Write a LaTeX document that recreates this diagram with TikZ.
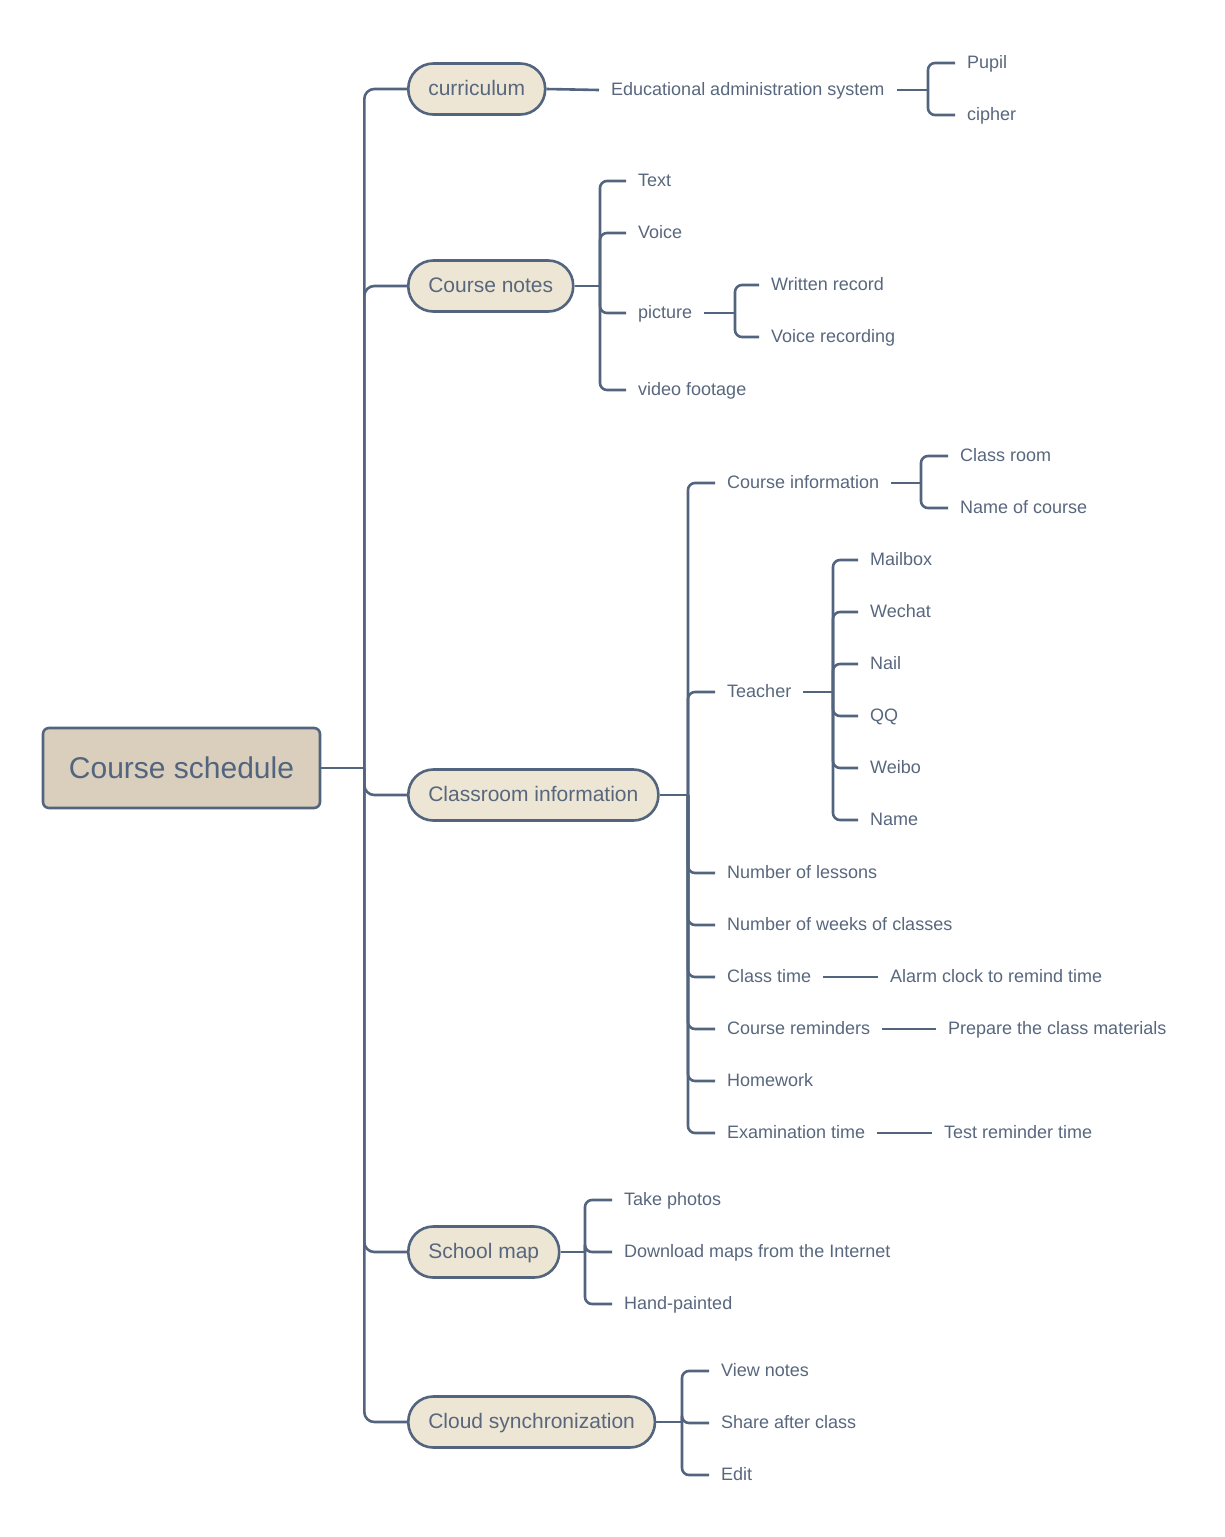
\documentclass[tikz,border=0pt]{standalone}
\usepackage{fontspec}
\setmainfont{Liberation Sans}
\usetikzlibrary{positioning}
\usepackage{xcolor}
\definecolor{slate}{RGB}{82,100,126}
\definecolor{inkgrey}{RGB}{88,103,125}
\definecolor{sand}{RGB}{217,207,188}
\definecolor{cream}{RGB}{238,230,212}

\begin{document}
\begin{tikzpicture}[
        x=1pt, y=-1pt,
        line join=round,
        rootnode/.style={shape=rectangle, rounded corners=6pt, fill=sand, draw=slate, line width=2.6pt,
                minimum width=277pt, minimum height=80pt, text=slate, font=\fontsize{30}{34}\selectfont,
                text height=22pt, text depth=2pt},
        topicnode/.style={shape=rectangle, rounded corners=25pt, fill=cream, draw=slate, line width=2.6pt,
                anchor=west, minimum height=51pt, inner xsep=20pt, text=inkgrey,
                font=\fontsize{21}{24}\selectfont, text height=15pt, text depth=3pt},
        leafnode/.style={anchor=west, inner xsep=12pt, inner ysep=0pt, text=inkgrey,
                font=\fontsize{18}{20}\selectfont, text height=13pt, text depth=3pt},
        link/.style={draw=slate, line width=2.6pt, rounded corners=7pt}
        ]
        \useasboundingbox (0,0) rectangle (1224,1537);

        %% Root and main topics
        \node[rootnode] (root) at (181.5,768) {Course schedule};
        \coordinate (trunk) at ([xshift=43pt]root.east);

        \node[topicnode] (cur) at (407,89) {curriculum};
        \node[topicnode] (cn) at (407,286) {Course notes};
        \node[topicnode] (ci) at (407,795) {Classroom information};
        \node[topicnode] (sm) at (407,1252) {School map};
        \node[topicnode] (cs) at (407,1422) {Cloud synchronization};

        \draw[link] (root.east) -- (trunk);
        \foreach \b in {cur, cn, ci, sm, cs} {
            \draw[link, rounded corners=10pt] (trunk) |- (\b.west);
        }

        %% curriculum
        \node[leafnode] (edu) at (599,90) {Educational administration system};
        \node[leafnode] (pupil) at (955,63) {Pupil};
        \node[leafnode] (cipher) at (955,115) {cipher};
        \draw[link] (cur.east) -- (edu.west);
        \coordinate (eduJ) at (928,90);
        \draw[link] (edu.east) -- (eduJ);
        \foreach \c in {pupil, cipher} {
            \draw[link] (eduJ) |- (\c.west);
        }

        %% Course notes
        \foreach \n/\y/\t in {txt/181/Text, voice/233/Voice, pic/313/picture, video/390/video footage} {
            \node[leafnode] (\n) at (626,\y) {\t};
        }
        \node[leafnode] (written) at (759,285) {Written record};
        \node[leafnode] (voicerec) at (759,337) {Voice recording};
        \coordinate (cnJ) at (600,286);
        \draw[link] (cn.east) -- (cnJ);
        \foreach \c in {txt, voice, pic, video} {
            \draw[link] (cnJ) |- (\c.west);
        }
        \coordinate (picJ) at (735,313);
        \draw[link] (pic.east) -- (picJ);
        \foreach \c in {written, voicerec} {
            \draw[link] (picJ) |- (\c.west);
        }

        %% Classroom information
        \foreach \n/\y/\t in {cinfo/483/Course information, teacher/692/Teacher, lessons/873/Number of lessons,
                weeks/925/Number of weeks of classes, ctime/977/Class time, remind/1029/Course reminders,
                homework/1081/Homework, exam/1133/Examination time} {
            \node[leafnode] (\n) at (715,\y) {\t};
        }
        \coordinate (ciJ) at (688,795);
        \draw[link] (ci.east) -- (ciJ);
        \foreach \c in {cinfo, teacher, lessons, weeks, ctime, remind, homework, exam} {
            \draw[link] (ciJ) |- (\c.west);
        }

        \node[leafnode] (classroom) at (948,456) {Class room};
        \node[leafnode] (coursename) at (948,508) {Name of course};
        \coordinate (cinfoJ) at (921,483);
        \draw[link] (cinfo.east) -- (cinfoJ);
        \foreach \c in {classroom, coursename} {
            \draw[link] (cinfoJ) |- (\c.west);
        }

        \foreach \n/\y/\t in {mailbox/560/Mailbox, wechat/612/Wechat, nail/664/Nail, qq/716/QQ,
                weibo/768/Weibo, tname/820/Name} {
            \node[leafnode] (\n) at (858,\y) {\t};
        }
        \coordinate (teacherJ) at (833,692);
        \draw[link] (teacher.east) -- (teacherJ);
        \foreach \c in {mailbox, wechat, nail, qq, weibo, tname} {
            \draw[link] (teacherJ) |- (\c.west);
        }

        \node[leafnode] (alarm) at (878,977) {Alarm clock to remind time};
        \node[leafnode] (prepare) at (936,1029) {Prepare the class materials};
        \node[leafnode] (test) at (932,1133) {Test reminder time};
        \draw[link] (ctime.east) -- (alarm.west);
        \draw[link] (remind.east) -- (prepare.west);
        \draw[link] (exam.east) -- (test.west);

        %% School map
        \foreach \n/\y/\t in {photos/1200/Take photos, download/1252/Download maps from the Internet,
                hand/1304/Hand-painted} {
            \node[leafnode] (\n) at (612,\y) {\t};
        }
        \coordinate (smJ) at (585,1252);
        \draw[link] (sm.east) -- (smJ);
        \foreach \c in {photos, download, hand} {
            \draw[link] (smJ) |- (\c.west);
        }

        %% Cloud synchronization
        \foreach \n/\y/\t in {view/1371/View notes, share/1423/Share after class, edit/1475/Edit} {
            \node[leafnode] (\n) at (709,\y) {\t};
        }
        \coordinate (csJ) at (682,1422);
        \draw[link] (cs.east) -- (csJ);
        \foreach \c in {view, share, edit} {
            \draw[link] (csJ) |- (\c.west);
        }
\end{tikzpicture}
\end{document}
